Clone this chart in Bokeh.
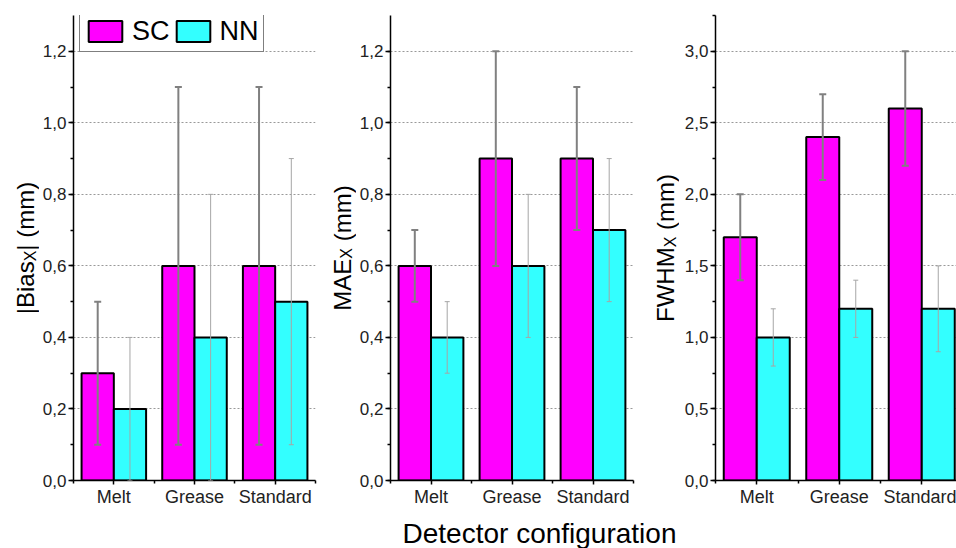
import numpy as np
from math import pi
from bokeh.plotting import figure
from bokeh.layouts import row, column
from bokeh.models import (ColumnDataSource, Range1d, FixedTicker, SingleIntervalTicker,
                          CustomJSTickFormatter, Whisker, TeeHead, Label, Legend, LegendItem)
from bokeh.embed import file_html
from bokeh.resources import INLINE

# ---------------- data ----------------
categories = ["Melt", "Grease", "Standard"]
series_names = ["SC", "NN"]

bias_sc = [0.3, 0.6, 0.6]
bias_sc_err = [0.2, 0.5, 0.5]
bias_nn = [0.2, 0.4, 0.5]
bias_nn_err = [0.2, 0.4, 0.4]

mae_sc = [0.6, 0.9, 0.9]
mae_sc_err = [0.1, 0.3, 0.2]
mae_nn = [0.4, 0.6, 0.7]
mae_nn_err = [0.1, 0.2, 0.2]

fwhm_sc = [1.7, 2.4, 2.6]
fwhm_sc_err = [0.3, 0.3, 0.4]
fwhm_nn = [1.0, 1.2, 1.2]
fwhm_nn_err = [0.2, 0.2, 0.3]

x_title = "Detector configuration"

# ---------------- style ----------------
FONT = "Liberation Sans"
SC_COLOR = "#FF00FF"
NN_COLOR = "#33FFFF"
SC_ERR = "#808080"
NN_ERR = "#a6a6a6"
H = 512                 # height of the panel row
TOP, BOTTOM = 15, 32    # common frame borders (plots in a row share frame alignment)
FH = H - TOP - BOTTOM   # frame height
TH = 548 - H            # height of the strip holding the shared x title
MID = 0.29              # distance from baseline to the text's middle, in em

# Arial / Liberation Sans advance widths (per 1000 em) for label layout
W = {'|': 260, 'B': 667, 'i': 222, 'a': 556, 's': 500, 'X': 667, ' ': 278, '(': 333,
     'm': 833, ')': 333, 'M': 833, 'A': 667, 'E': 667, 'F': 611, 'W': 944, 'H': 722}


def text_w(s, size):
    return sum(W[c] for c in s.strip()) * size / 1000.0


def blank_fig(width, height, top=0, bottom=0):
    f = figure(title=None, width=width, height=height, output_backend="svg",
               toolbar_location=None, x_range=Range1d(0, width),
               y_range=Range1d(0, height - top - bottom),
               x_axis_location=None, y_axis_location=None, min_border=0,
               min_border_top=top, min_border_bottom=bottom)
    f.outline_line_color = None
    f.grid.visible = False
    f.background_fill_color = "white"
    f.border_fill_color = "white"
    return f


def ylabel_fig(width, parts, base_x, gap):
    """Narrow strip holding a vertical axis title made of pieces (text, size, downward shift)."""
    f = blank_fig(width, H, TOP, BOTTOM)
    total = sum(text_w(t, sz) for t, sz, dx in parts) + gap
    y = FH / 2.0 - total / 2.0
    for i, (t, sz, dx) in enumerate(parts):
        w = text_w(t, sz)
        f.add_layout(Label(x=base_x + dx - MID * sz, y=y + w / 2.0, text=t.strip(),
                           angle=pi / 2, text_font=FONT, text_font_size=f"{sz}px",
                           text_align="center", text_baseline="middle", text_color="black"))
        y += w
        if i == 1:
            y += gap
    return f


def make_panel(width, left, right, x_end, y_end, y_step, sc, sc_err, nn, nn_err):
    p = figure(title=None, width=width, height=H, output_backend="svg",
               toolbar_location=None,
               x_range=Range1d(0.5, x_end), y_range=Range1d(0, y_end),
               min_border_left=left, min_border_right=right,
               min_border_top=TOP, min_border_bottom=BOTTOM)
    p.outline_line_color = None
    p.background_fill_color = "white"
    p.border_fill_color = "white"
    p.xgrid.visible = False
    p.ygrid.grid_line_color = "#999999"
    p.ygrid.grid_line_dash = "2 2"
    p.ygrid.grid_line_width = 1

    idx = np.arange(1, len(categories) + 1)
    sc = np.array(sc); nn = np.array(nn)
    sc_err = np.array(sc_err); nn_err = np.array(nn_err)
    src = ColumnDataSource(dict(x_sc=idx - 0.2, x_nn=idx + 0.2, sc=sc, nn=nn,
                                sc_lo=sc - sc_err, sc_hi=sc + sc_err,
                                nn_lo=nn - nn_err, nn_hi=nn + nn_err))
    r_sc = p.vbar(x="x_sc", top="sc", width=0.4, source=src, fill_color=SC_COLOR,
                  line_color="black", line_width=2)
    r_nn = p.vbar(x="x_nn", top="nn", width=0.4, source=src, fill_color=NN_COLOR,
                  line_color="black", line_width=2)

    for base, lo, hi, col, lw, hs in (("x_sc", "sc_lo", "sc_hi", SC_ERR, 2, 7),
                                      ("x_nn", "nn_lo", "nn_hi", NN_ERR, 1, 5)):
        w = Whisker(source=src, base=base, lower=lo, upper=hi, line_color=col, line_width=lw,
                    upper_head=TeeHead(size=hs, line_color=col, line_width=lw),
                    lower_head=TeeHead(size=hs, line_color=col, line_width=lw),
                    level="annotation")
        p.add_layout(w)

    xa = p.xaxis[0]
    xa.ticker = FixedTicker(ticks=list(idx.astype(float)),
                            minor_ticks=list((idx - 0.5).astype(float)) + [float(idx[-1] + 0.5)])
    xa.formatter = CustomJSTickFormatter(args=dict(labels=categories),
                                         code="const i = Math.round(tick) - 1; return (i >= 0 && i < labels.length) ? labels[i] : '';")
    ya = p.yaxis[0]
    ya.ticker = SingleIntervalTicker(interval=y_step, num_minor_ticks=2)
    ya.formatter = CustomJSTickFormatter(code="return tick.toFixed(1).replace('.', ',');")

    for ax in (xa, ya):
        ax.axis_line_color = "black"
        ax.axis_line_width = 1.5
        ax.major_tick_line_color = "black"
        ax.major_tick_line_width = 1.5
        ax.minor_tick_line_color = "black"
        ax.minor_tick_line_width = 1.5
        ax.major_tick_in = 0
        ax.minor_tick_in = 0
        ax.major_label_text_font = FONT
        ax.major_label_text_color = "#222222"
    xa.major_tick_out = 4
    xa.minor_tick_out = 3
    xa.major_label_standoff = 2
    xa.major_label_text_font_size = "18px"
    ya.major_tick_out = 5
    ya.minor_tick_out = 3
    ya.major_label_standoff = 2
    ya.major_label_text_font_size = "17px"
    return p, r_sc, r_nn


# panel 1: |Bias_X|
l1 = ylabel_fig(39, [("|Bias", 24, 0), ("X", 16, 3), ("| (mm)", 24, 0)], 32, 0)
p1, r1_sc, r1_nn = make_panel(281, 33, 5, 3.5, 1.3, 0.2,
                              bias_sc, bias_sc_err, bias_nn, bias_nn_err)
legend = Legend(items=[LegendItem(label=series_names[0], renderers=[r1_sc]),
                       LegendItem(label=series_names[1], renderers=[r1_nn])],
                orientation="horizontal", location=(6, (H - BOTTOM) - 52), margin=0, padding=4,
                spacing=2, label_standoff=6, glyph_width=42, glyph_height=26, label_height=32,
                label_text_font=FONT, label_text_font_size="27px", label_text_color="black",
                border_line_color="black", border_line_width=1,
                background_fill_color="white", background_fill_alpha=1.0)
p1.add_layout(legend)

# panel 2: MAE_X
l2 = ylabel_fig(36, [("MAE", 24, 0), ("X", 16, 2), (" (mm)", 24, 0)], 29, 6.7)
p2, _, _ = make_panel(284, 31, 7, 3.5, 1.3, 0.2,
                      mae_sc, mae_sc_err, mae_nn, mae_nn_err)

# panel 3: FWHM_X (cut at the right edge as in the original)
l3 = ylabel_fig(39, [("FWHM", 24, 0), ("X", 16, 3), (" (mm)", 24, 0)], 32, 6.7)
p3, _, _ = make_panel(277, 36, 0, 0.5 + 241 / 82.5, 3.25, 0.5,
                      fwhm_sc, fwhm_sc_err, fwhm_nn, fwhm_nn_err)

# bottom shared x title (baseline 7 px above the bottom of the page)
t = blank_fig(956, TH)
t.add_layout(Label(x=539, y=7 + MID * 28, text=x_title, text_align="center",
                   text_baseline="middle", text_font=FONT, text_font_size="28px",
                   text_color="black"))

layout = column(row(l1, p1, l2, p2, l3, p3, spacing=0), t, spacing=0)
open("out.html", "w").write(file_html(layout, INLINE))
